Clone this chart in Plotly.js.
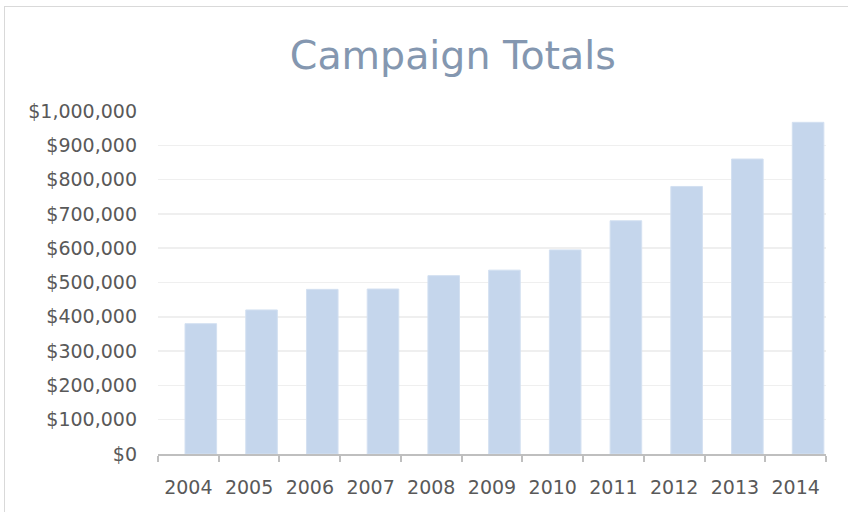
<!DOCTYPE html>
<html>
<head>
<meta charset="utf-8">
<script src="https://cdn.plot.ly/plotly-3.0.1.min.js"></script>
<style>
html,body{margin:0;padding:0;background:#fff;}
#wrap{position:relative;width:848px;height:512px;overflow:hidden;}
#chart{position:absolute;left:0;top:0;width:848px;height:512px;}
#frame{position:absolute;left:4px;top:6px;width:900px;height:600px;border-left:1.5px solid #d9d9d9;border-top:1.5px solid #d9d9d9;pointer-events:none;}
</style>
</head>
<body>
<div id="wrap"><div id="chart"></div><div id="frame"></div></div>
<script>
const years = ['2004','2005','2006','2007','2008','2009','2010','2011','2012','2013','2014'];
const totals = [380000, 420000, 480000, 481000, 520000, 536000, 595000, 680000, 780000, 860000, 967000];
const yTicks = [0,100000,200000,300000,400000,500000,600000,700000,800000,900000,1000000];
const yTickLabels = ['$0','$100,000','$200,000','$300,000','$400,000','$500,000','$600,000','$700,000','$800,000','$900,000','$1,000,000'];

const font = 'DejaVu Sans, Verdana, sans-serif';
Plotly.newPlot('chart', [{
  type: 'bar',
  x: years,
  y: totals,
  width: 0.52,
  offset: -0.055,
  marker: {color: '#c5d6ec', line: {color: '#d3e0f1', width: 1}},
  hoverinfo: 'x+y'
}], {
  width: 848, height: 512,
  margin: {l: 158, r: 22, t: 111, b: 58},
  paper_bgcolor: '#ffffff',
  plot_bgcolor: '#ffffff',
  showlegend: false,
  title: {text: 'Campaign Totals', font: {family: font, size: 39.5, color: '#8497b0'}, x: 0.534, xanchor: 'center', y: 0.892, yanchor: 'middle'},
  xaxis: {
    type: 'category',
    tickson: 'boundaries',
    ticks: 'outside', ticklen: 6, tickwidth: 2, tickcolor: '#bfbfbf',
    showline: true, linecolor: '#bfbfbf', linewidth: 2,
    showgrid: false,
    ticklabelstandoff: 15,
    tickfont: {family: font, size: 19, color: '#595959'},
    fixedrange: true
  },
  yaxis: {
    range: [0, 1000000],
    tickvals: yTicks, ticktext: yTickLabels,
    showgrid: true, gridcolor: '#efefef', gridwidth: 1.5,
    zeroline: false, showline: false, ticks: '',
    ticklabelstandoff: 20,
    tickfont: {family: font, size: 19, color: '#595959'},
    fixedrange: true
  }
}, {displayModeBar: false, staticPlot: true});
</script>
</body>
</html>
